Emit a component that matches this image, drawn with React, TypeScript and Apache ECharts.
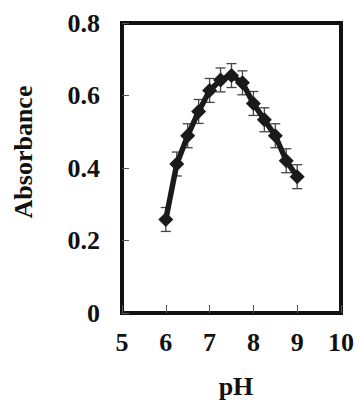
import React, { useEffect, useRef } from "react";
import * as echarts from "echarts";

const ph = [6, 6.25, 6.5, 6.75, 7, 7.25, 7.5, 7.75, 8, 8.25, 8.5, 8.75, 9];
const absorbance = [0.258, 0.411, 0.489, 0.556, 0.614, 0.643, 0.655, 0.635, 0.578, 0.533, 0.489, 0.42, 0.376];
const errors = [0.033, 0.033, 0.033, 0.033, 0.033, 0.033, 0.033, 0.033, 0.033, 0.033, 0.033, 0.033, 0.033];
const xTicks = [5, 6, 7, 8, 9, 10];
const yTicks = [0, 0.2, 0.4, 0.6, 0.8];

const FONT = "'Liberation Serif', 'Times New Roman', serif";

export default function App() {
  const ref = useRef<HTMLDivElement>(null);
  useEffect(() => {
    if (!ref.current) return;
    const chart = echarts.init(ref.current, undefined, { renderer: "svg" });
    const lineData = ph.map((x, i) => [x, absorbance[i]]);
    const errData = ph.map((x, i) => [x, absorbance[i] - errors[i], absorbance[i] + errors[i]]);
    chart.setOption({
      animation: false,
      backgroundColor: "#ffffff",
      grid: {
        left: 122,
        right: 14,
        top: 23,
        bottom: 90,
        show: true,
        borderWidth: 4,
        borderColor: "#111111",
        backgroundColor: "transparent",
      },
      xAxis: {
        type: "value",
        min: xTicks[0],
        max: xTicks[xTicks.length - 1],
        interval: 1,
        axisLine: { show: false },
        axisTick: { show: true, inside: true, length: 8, lineStyle: { color: "#555", width: 1 } },
        splitLine: { show: false },
        axisLabel: {
          margin: 16,
          fontFamily: FONT,
          fontWeight: "bold",
          fontSize: 26,
          color: "#111",
        },
      },
      yAxis: {
        type: "value",
        min: yTicks[0],
        max: yTicks[yTicks.length - 1],
        interval: 0.2,
        axisLine: { show: false },
        axisTick: { show: true, inside: true, length: 7, lineStyle: { color: "#555", width: 1 } },
        splitLine: { show: false },
        axisLabel: {
          margin: 22,
          fontFamily: FONT,
          fontWeight: "bold",
          fontSize: 26,
          color: "#111",
          formatter: (v: number) => (v === 0 ? "0" : v.toFixed(1)),
        },
      },
      graphic: [
        {
          type: "text",
          x: 23,
          y: 152,
          rotation: Math.PI / 2,
          style: {
            text: "Absorbance",
            fontFamily: FONT,
            fontWeight: "bold",
            fontSize: 26,
            fill: "#111",
            align: "center",
            verticalAlign: "middle",
          },
        },
        {
          type: "text",
          x: 236,
          y: 386,
          style: {
            text: "pH",
            fontFamily: FONT,
            fontWeight: "bold",
            fontSize: 26,
            fill: "#111",
            align: "center",
            verticalAlign: "middle",
          },
        },
      ],
      series: [
        {
          type: "custom",
          z: 1,
          data: errData,
          renderItem: (params: any, api: any) => {
            const x = api.value(0);
            const lo = api.coord([x, api.value(1)]);
            const hi = api.coord([x, api.value(2)]);
            const half = 5;
            const style = { stroke: "#444", lineWidth: 1.3 };
            return {
              type: "group",
              children: [
                { type: "line", shape: { x1: lo[0], y1: lo[1], x2: hi[0], y2: hi[1] }, style },
                { type: "line", shape: { x1: lo[0] - half, y1: lo[1], x2: lo[0] + half, y2: lo[1] }, style },
                { type: "line", shape: { x1: hi[0] - half, y1: hi[1], x2: hi[0] + half, y2: hi[1] }, style },
              ],
            };
          },
        },
        {
          type: "line",
          z: 2,
          data: lineData,
          symbol: "diamond",
          symbolSize: 15,
          lineStyle: { color: "#1a1a1a", width: 5.5 },
          itemStyle: { color: "#1a1a1a" },
        },
      ],
    });
    return () => chart.dispose();
  }, []);
  return (
    <div
      ref={ref}
      style={{ position: "fixed", left: 0, top: 0, width: 357, height: 403, background: "#fff" }}
    />
  );
}
